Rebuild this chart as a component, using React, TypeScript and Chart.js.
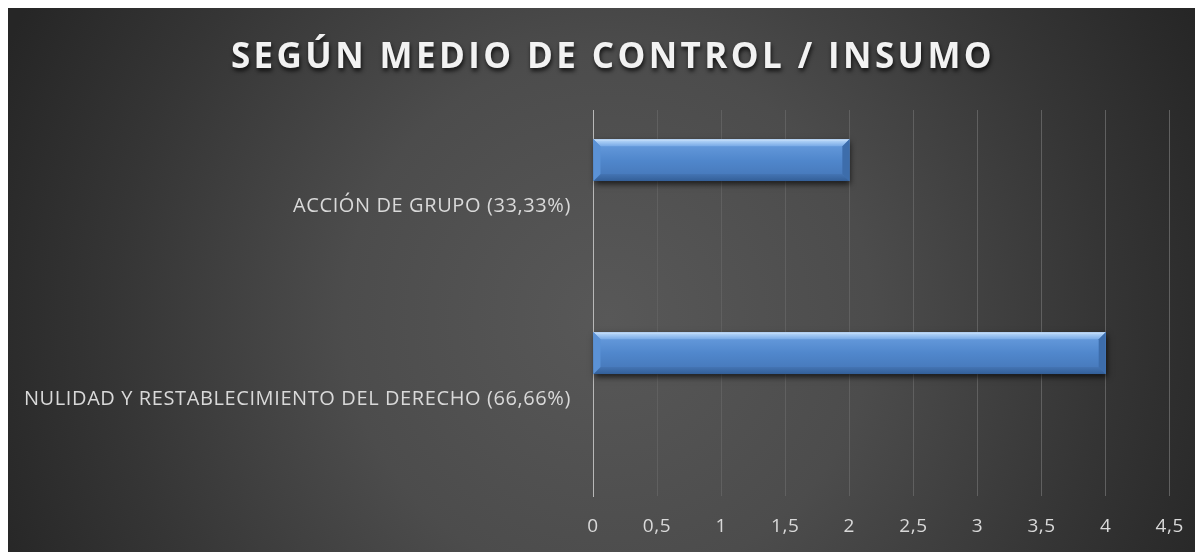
import React, { useEffect, useRef } from "react";
import { Chart, registerables } from "chart.js";

Chart.register(...registerables);

const TITLE = "SEGÚN MEDIO DE CONTROL / INSUMO";
const categories = [
  "ACCIÓN DE GRUPO (33,33%)",
  "NULIDAD Y RESTABLECIMIENTO DEL DERECHO (66,66%)",
];
const seriesValues = [2, 4];
const emptySeries = [null, null];
const xMin = 0;
const xMax = 4.5;
const xStep = 0.5;

const FONT = "'Open Sans', 'Noto Sans', sans-serif";
const AXIS_SPACING = "0.6px";

const spacingPlugin = {
  id: "spacingPlugin",
  beforeLayout(chart: any) {
    try {
      chart.ctx.letterSpacing = AXIS_SPACING;
    } catch (e) {}
  },
  beforeDraw(chart: any) {
    try {
      chart.ctx.letterSpacing = AXIS_SPACING;
    } catch (e) {}
  },
};

const bgPlugin = {
  id: "bgPlugin",
  beforeDraw(chart: any) {
    const { ctx, width, height } = chart;
    ctx.save();
    const cx = 600;
    const cy = 310;
    const g = ctx.createRadialGradient(cx, cy, 0, cx, cy, 660);
    g.addColorStop(0, "#585858");
    g.addColorStop(0.4, "#4c4c4c");
    g.addColorStop(0.75, "#353535");
    g.addColorStop(1, "#262626");
    ctx.fillStyle = g;
    ctx.fillRect(0, 0, width, height);
    ctx.restore();
  },
  afterDraw(chart: any) {
    const { ctx } = chart;
    ctx.save();
    ctx.font = `bold 35px ${FONT}`;
    try {
      (ctx as any).letterSpacing = "3.4px";
    } catch (e) {}
    ctx.textAlign = "center";
    ctx.textBaseline = "middle";
    ctx.shadowColor = "rgba(0,0,0,0.75)";
    ctx.shadowBlur = 4;
    ctx.shadowOffsetX = 1;
    ctx.shadowOffsetY = 3;
    ctx.fillStyle = "#f2f2f2";
    ctx.fillText(TITLE, 605, 50);
    ctx.restore();
  },
};

const bevelPlugin = {
  id: "bevelPlugin",
  beforeDatasetsDraw(chart: any) {
    const { ctx } = chart;
    const meta = chart.getDatasetMeta(0);
    ctx.save();
    meta.data.forEach((bar: any) => {
      if (bar.x == null || isNaN(bar.x)) return;
      const x0 = Math.min(bar.base, bar.x);
      const x1 = Math.max(bar.base, bar.x);
      const y0 = bar.y - bar.height / 2;
      ctx.shadowColor = "rgba(0,0,0,0.7)";
      ctx.shadowBlur = 6;
      ctx.shadowOffsetX = 1;
      ctx.shadowOffsetY = 3;
      ctx.fillStyle = "#3b6aa6";
      ctx.fillRect(x0, y0, x1 - x0, bar.height);
    });
    ctx.restore();
  },
  afterDatasetsDraw(chart: any) {
    const { ctx } = chart;
    const meta = chart.getDatasetMeta(0);
    ctx.save();
    meta.data.forEach((bar: any) => {
      if (bar.x == null || isNaN(bar.x)) return;
      const x0 = Math.min(bar.base, bar.x);
      const x1 = Math.max(bar.base, bar.x);
      const y0 = bar.y - bar.height / 2;
      const y1 = bar.y + bar.height / 2;
      const b = 7;
      const g = ctx.createLinearGradient(0, y0, 0, y1);
      g.addColorStop(0, "#6b9fe0");
      g.addColorStop(0.5, "#5087cc");
      g.addColorStop(1, "#4475b6");
      ctx.fillStyle = g;
      ctx.fillRect(x0, y0, x1 - x0, y1 - y0);
      const gt = ctx.createLinearGradient(0, y0, 0, y0 + b);
      gt.addColorStop(0, "#d2e6fb");
      gt.addColorStop(0.3, "#a9cdf5");
      gt.addColorStop(1, "#77a9e6");
      ctx.fillStyle = gt;
      ctx.beginPath();
      ctx.moveTo(x0, y0);
      ctx.lineTo(x1, y0);
      ctx.lineTo(x1 - b, y0 + b);
      ctx.lineTo(x0 + b, y0 + b);
      ctx.closePath();
      ctx.fill();
      const gb = ctx.createLinearGradient(0, y1 - b, 0, y1);
      gb.addColorStop(0, "#4474b3");
      gb.addColorStop(1, "#335f98");
      ctx.fillStyle = gb;
      ctx.beginPath();
      ctx.moveTo(x0, y1);
      ctx.lineTo(x1, y1);
      ctx.lineTo(x1 - b, y1 - b);
      ctx.lineTo(x0 + b, y1 - b);
      ctx.closePath();
      ctx.fill();
      ctx.fillStyle = "#3d6dab";
      ctx.beginPath();
      ctx.moveTo(x1, y0);
      ctx.lineTo(x1, y1);
      ctx.lineTo(x1 - b, y1 - b);
      ctx.lineTo(x1 - b, y0 + b);
      ctx.closePath();
      ctx.fill();
      ctx.fillStyle = "#5b92d6";
      ctx.beginPath();
      ctx.moveTo(x0, y0);
      ctx.lineTo(x0, y1);
      ctx.lineTo(x0 + b, y1 - b);
      ctx.lineTo(x0 + b, y0 + b);
      ctx.closePath();
      ctx.fill();
    });
    ctx.restore();
  },
};

export default function App() {
  const ref = useRef<HTMLCanvasElement | null>(null);

  useEffect(() => {
    if (!ref.current) return;
    const chart = new Chart(ref.current, {
      type: "bar",
      data: {
        labels: categories,
        datasets: [
          {
            label: "Procesos",
            data: seriesValues,
            backgroundColor: "#5087cc",
            borderWidth: 0,
            categoryPercentage: 0.96,
            barPercentage: 0.45,
          },
          {
            label: "",
            data: emptySeries as any,
            backgroundColor: "rgba(0,0,0,0)",
            borderWidth: 0,
            categoryPercentage: 0.96,
            barPercentage: 0.45,
          },
        ],
      },
      options: {
        indexAxis: "y",
        animation: false,
        responsive: false,
        maintainAspectRatio: false,
        layout: { padding: { top: 102, right: 32, left: 0, bottom: 0 } },
        plugins: {
          legend: { display: false },
          title: { display: false },
          tooltip: { enabled: false },
        },
        scales: {
          x: {
            min: xMin,
            max: xMax,
            ticks: {
              stepSize: xStep,
              color: "#d9d9d9",
              font: { family: FONT, size: 19 },
              padding: 19,
              callback: (v: any) => String(v).replace(".", ","),
            },
            grid: {
              color: (c: any) => (c.index === 0 ? "rgba(0,0,0,0)" : "#606060"),
              lineWidth: 1,
              drawTicks: false,
            },
            border: { display: false },
            afterFit: (s: any) => {
              s.height = 56;
            },
          },
          y: {
            ticks: {
              color: "#d9d9d9",
              font: { family: FONT, size: 20 },
              padding: 22,
            },
            grid: { display: false, drawTicks: false },
            border: { display: true, color: "#b8b8b8", width: 1 },
            afterFit: (s: any) => {
              s.width = 585;
            },
          },
        },
      },
      plugins: [spacingPlugin, bgPlugin, bevelPlugin],
    });
    return () => chart.destroy();
  }, []);

  return (
    <div style={{ width: 1195, height: 544 }}>
      <canvas ref={ref} width={1195} height={544} style={{ display: "block" }} />
    </div>
  );
}
